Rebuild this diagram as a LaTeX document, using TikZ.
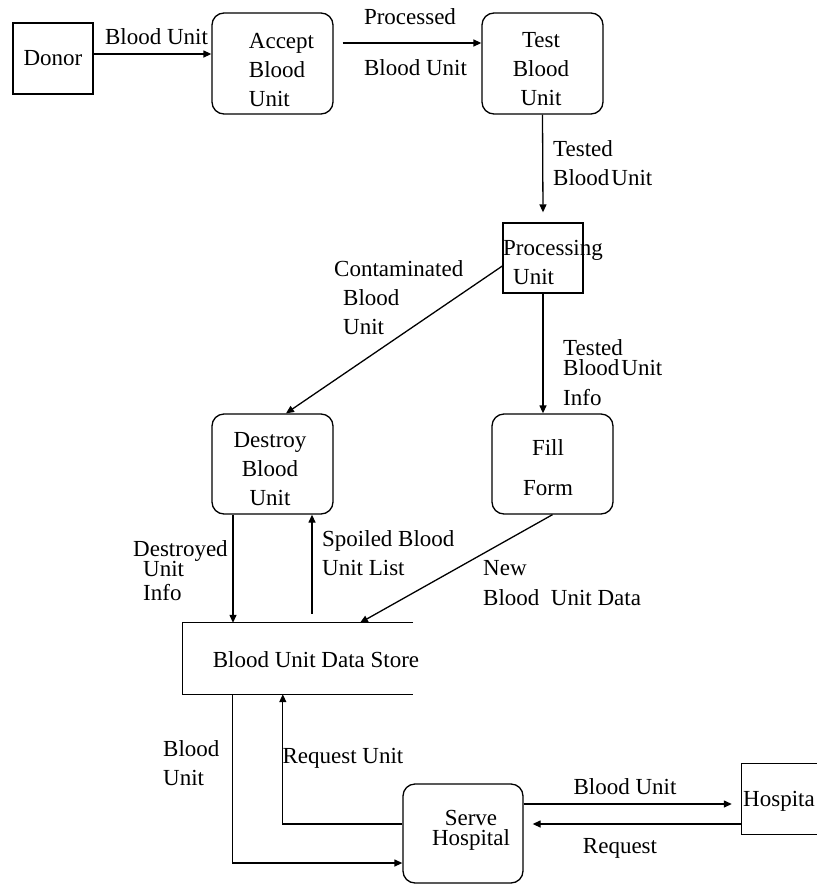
\documentclass[tikz,border=0pt]{standalone}
\usepackage{fontspec}
\setmainfont{Liberation Serif}
\usetikzlibrary{arrows.meta,calc}
\begin{document}
\begin{tikzpicture}[x=1pt,y=-1pt,
  every node/.style={font=\fontsize{23}{29}\selectfont, inner sep=0pt},
  ln/.style={line width=1.3pt},
  arr/.style={line width=1.3pt, -{Triangle[length=8pt,width=7pt]}},
  sbox/.style={draw, line width=1.3pt},
  rbox/.style={draw, line width=1.3pt, rounded corners=12pt, minimum width=121pt, minimum height=101pt},
  lbl/.style={align=left, anchor=north west}]
\useasboundingbox (0,0) rectangle (817,884);

% boxes
\node[sbox, minimum width=80pt, minimum height=71pt] (donor) at (53,58.5) {Donor};
\node[rbox] (accept) at (272.5,63.5) {};
\node[align=left] (acceptT) at (281.5,70) {Accept\\Blood\\Unit};
\node[rbox] (test) at (542.5,63.5) {};
\node[align=center] (testT) at (541,69) {Test\\Blood\\Unit};
\node[sbox, minimum width=80pt, minimum height=70pt] (proc) at (543,258) {};
\node[align=left, anchor=west] (procT) at (503,262) {Processing\\\hspace*{10pt}Unit};
\node[rbox, minimum height=100pt] (destroy) at (272.5,464) {};
\node[align=center] (destroyT) at (270,469) {Destroy\\Blood\\Unit};
\node[rbox, minimum height=100pt] (fill) at (552.5,464) {};
\node[align=center] (fillT) at (548,468) {Fill\\[11pt]Form};
\node[minimum width=230pt, minimum height=71pt] (store) at (298,658.5) {};
\draw[ln] (store.north east) -- (store.north west) -- (store.south west) -- (store.south east);
\node (storeT) at (316,660) {Blood Unit Data Store};
\node[rbox, minimum width=120pt, minimum height=99pt] (serve) at (463,833.5) {};
\node[align=center] (serveT) at (471,830) {Serve\\[-9pt]Hospital};
\node[minimum width=75pt, minimum height=70pt] (hosp) at (779.5,799) {};
\draw[ln] (hosp.north east) -- (hosp.north west) -- (hosp.south west) -- (hosp.south east);
\node[anchor=west] (hospT) at (743,801) {Hospita};

% connectors
\coordinate (d1) at ([yshift=4.5pt]donor.east);
\draw[arr] (d1) -- (d1 -| accept.west);
\draw[arr] ([xshift=9pt,yshift=20.5pt]accept.east) -- ([yshift=20.5pt]test.west);
\draw[arr] (test.south) -- ([yshift=10pt]proc.north);
\draw[arr] ([yshift=-8pt]proc.west) -- ([xshift=13.5pt]destroy.north);
\draw[arr] (proc.south) -- (proc.south |- fill.north);
\coordinate (e1) at ([xshift=-39.5pt]destroy.south);
\draw[arr] (e1) -- (e1 |- store.north);
\coordinate (e2) at ([xshift=39.5pt]destroy.south);
\coordinate (e3) at (e2 |- store.north);
\draw[arr] ([yshift=9pt]e3) -- (e2);
\draw[arr] (fill.south) -- ([xshift=62pt]store.north);
\coordinate (s1) at ([xshift=50pt]store.south west);
\coordinate (s2) at ([yshift=-29.5pt]serve.west);
\draw[arr] (s1) |- (s2);
\coordinate (s3) at ([yshift=9.5pt]serve.west);
\coordinate (s4) at ([xshift=100pt]store.south west);
\draw[arr] (s3) -| (s4);
\coordinate (h1) at ([yshift=29.5pt]serve.east);
\draw[arr] (h1) -- ([xshift=-10pt]h1 -| hosp.west);
\coordinate (h2) at ([yshift=-25pt]hosp.west);
\draw[arr] (h2) -- ([xshift=9pt]h2 -| serve.east);

% labels
\node (l1) at (156.5,37) {Blood Unit};
\node (l2) at (410,17) {Processed};
\node (l3) at (415.5,68) {Blood Unit};
\node[lbl] (l4) at (553,140) {Tested\\Blood\hspace{2pt}Unit};
\node[lbl] (l5) at (334,260) {Contaminated\\\hspace*{9pt}Blood\\\hspace*{9pt}Unit};
\node[lbl] (l6) at (563,339) {Tested\\[-9pt]Blood\hspace{2pt}Unit\\[1pt]Info};
\node[lbl] (l7) at (133,540) {Destroyed\\[-9pt]\hspace*{10pt}Unit\\[-5pt]\hspace*{10pt}Info};
\node[lbl] (l8) at (322,530) {Spoiled Blood\\Unit List};
\node[lbl] (l9) at (483,560) {New\\[1pt]Blood\ \ Unit Data};
\node[lbl] (l10) at (163,740) {Blood\\Unit};
\node (l11) at (343,758) {Request Unit};
\node (l12) at (625,787) {Blood Unit};
\node (l13) at (620,848) {Request};
\end{tikzpicture}
\end{document}
